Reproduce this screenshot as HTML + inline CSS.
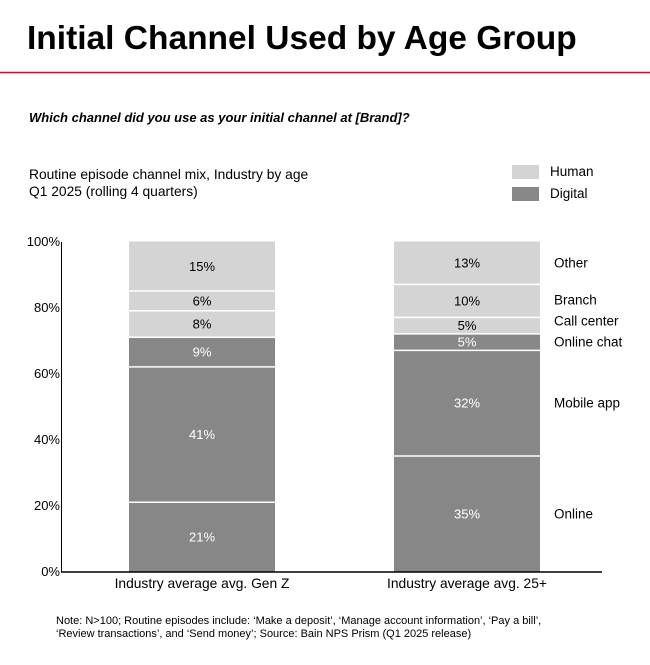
<!DOCTYPE html>
<html><head><meta charset="utf-8"><style>
body{margin:0;width:650px;height:660px;background:#fff;font-family:"Liberation Sans",Arial,sans-serif;overflow:hidden}
</style></head><body>
<svg width="650" height="660" xmlns="http://www.w3.org/2000/svg" font-family="Liberation Sans, Arial, sans-serif">
<text x="27" y="49" font-size="33.5" font-weight="bold" fill="#000">Initial Channel Used by Age Group</text>
<line x1="0" y1="72.5" x2="650" y2="72.5" stroke="#c8102e" stroke-width="1.5"/>
<text x="29" y="122" font-size="13" font-weight="bold" font-style="italic">Which channel did you use as your initial channel at [Brand]?</text>
<text x="29" y="179" font-size="13.8">Routine episode channel mix, Industry by age</text>
<text x="29" y="196" font-size="13.8">Q1 2025 (rolling 4 quarters)</text>
<rect x="512" y="165" width="27" height="14" fill="#d4d4d4"/>
<text x="550" y="176" font-size="13.5">Human</text>
<rect x="512" y="187" width="27" height="14" fill="#878787"/>
<text x="550" y="198" font-size="13.5">Digital</text>
<g id="chart"></g>
<text x="56" y="624" font-size="11">Note: N&gt;100; Routine episodes include: ‘Make a deposit’, ‘Manage account information’, ‘Pay a bill’,</text>
<text x="56" y="637" font-size="11">‘Review transactions’, and ‘Send money’; Source: Bain NPS Prism (Q1 2025 release)</text>
</svg>
<script>
const categories = ["Industry average avg. Gen Z", "Industry average avg. 25+"];
const segments = ["Online", "Mobile app", "Online chat", "Call center", "Branch", "Other"];
const segmentType = ["digital", "digital", "digital", "human", "human", "human"];
const genZValues = [21, 41, 9, 8, 6, 15];
const age25Values = [35, 32, 5, 5, 10, 13];
const yTicks = [0, 20, 40, 60, 80, 100];

const NS = "http://www.w3.org/2000/svg";
const g = document.getElementById("chart");
const y0 = 571.5, y1 = 241.5;
const yScale = v => y0 - (v / 100) * (y0 - y1);
const barX = [129, 394], barW = 146;
function mk(tag, attrs, text) {
  const e = document.createElementNS(NS, tag);
  for (const k in attrs) e.setAttribute(k, attrs[k]);
  if (text !== undefined) e.textContent = text;
  g.appendChild(e);
  return e;
}
yTicks.forEach(t => {
  const e = mk("text", {x: 60, y: yScale(t) + 4.5, "font-size": 13, "text-anchor": "end"}, t + "%");
  
  
});
const series = [genZValues, age25Values];
series.forEach((vals, ci) => {
  let cum = 0;
  let lastLabelY = 1e9;
  vals.forEach((v, si) => {
    const top = yScale(cum + v), bot = yScale(cum);
    const r = mk("rect", {x: barX[ci], y: top, width: barW, height: bot - top, fill: segmentType[si] === "digital" ? "#878787" : "#d4d4d4"});
    
    
    const lbl = mk("text", {x: barX[ci] + barW / 2, y: (top + bot) / 2 + 4.5, "font-size": 13, "text-anchor": "middle", fill: segmentType[si] === "digital" ? "#fff" : "#000"}, v + "%");
    
    
    if (cum > 0) {
      const s = mk("line", {x1: barX[ci], x2: barX[ci] + barW, y1: bot, y2: bot, stroke: "#fff", "stroke-width": 1.5});
      
      
    }
    if (ci === 1) {
      let ly = (top + bot) / 2;
      if (lastLabelY - ly < 21) ly = lastLabelY - 21;
      lastLabelY = ly;
      const sl = mk("text", {x: 554, y: ly + 4.5, "font-size": 13.5}, segments[si]);
      
      
    }
    cum += v;
  });
  const cl = mk("text", {x: barX[ci] + barW / 2, y: 588, "font-size": 13.8, "text-anchor": "middle"}, categories[ci]);
  
  
});
const ya = mk("line", {x1: 61.5, x2: 61.5, y1: 242, y2: 572, stroke: "#000", "stroke-width": 1});


const xa = mk("line", {x1: 61, x2: 602, y1: 572, y2: 572, stroke: "#000", "stroke-width": 1.5});


</script>
</body></html>
